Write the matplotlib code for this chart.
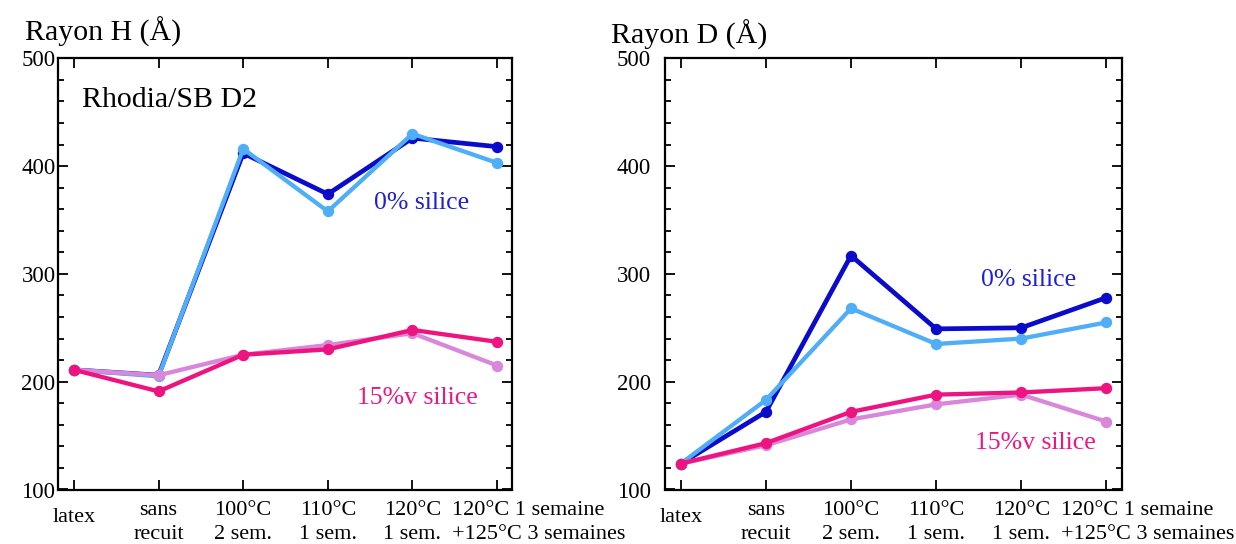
import matplotlib
matplotlib.use("Agg")
import matplotlib.pyplot as plt
from matplotlib.ticker import MultipleLocator, FixedLocator
from matplotlib.transforms import ScaledTranslation

plt.rcParams['font.family'] = ['Liberation Serif', 'DejaVu Serif']

categories = ["latex", "sans\nrecuit", "100°C\n2 sem.", "110°C\n1 sem.",
              "120°C\n1 sem.", "120°C 1 semaine\n+125°C 3 semaines"]

# Rayon H
h_0_a = [211, 206, 412, 374, 426, 418]   # 0% silice (dark blue)
h_0_b = [211, 205, 416, 358, 430, 403]   # 0% silice (light blue)
h_15_a = [211, 191, 225, 230, 248, 237]  # 15%v silice (magenta)
h_15_b = [211, 206, 225, 234, 245, 215]  # 15%v silice (violet)

# Rayon D
d_0_a = [124, 172, 317, 249, 250, 278]
d_0_b = [124, 183, 268, 235, 240, 255]
d_15_a = [124, 143, 172, 188, 190, 194]
d_15_b = [124, 141, 165, 179, 188, 163]

c_dark = "#0B0BCC"
c_light = "#50AEF7"
c_mag = "#EE1480"
c_vio = "#D987DA"
c_txt_blue = "#1F1FD6"
c_txt_pink = "#F0167F"

fig = plt.figure(figsize=(12.36, 5.44), dpi=100)
W, H = 1236, 544

def make_axes(x0, x1, y0, y1):
    return fig.add_axes([x0 / W, 1 - y1 / H, (x1 - x0) / W, (y1 - y0) / H])

axL = make_axes(58.3, 512.3, 58.3, 489.5)
axR = make_axes(665, 1121.7, 58.3, 489.5)

x = list(range(len(categories)))

def draw(ax, s0a, s0b, s15a, s15b):
    ax.plot(x, s0a, '-o', color=c_dark, lw=3.4, ms=7.2, zorder=3)
    ax.plot(x, s0b, '-o', color=c_light, lw=3.1, ms=7.2, zorder=4)
    ax.plot(x, s15b, '-o', color=c_vio, lw=3.1, ms=7.2, zorder=5)
    ax.plot(x, s15a, '-o', color=c_mag, lw=3.1, ms=7.2, zorder=6)
    ax.set_xlim(-0.185, 5.18)
    ax.set_ylim(100, 500)
    ax.yaxis.set_major_locator(MultipleLocator(100))
    ax.yaxis.set_minor_locator(MultipleLocator(20))
    ax.xaxis.set_major_locator(FixedLocator(x))
    ax.set_xticklabels(categories, fontsize=16, linespacing=1.38)
    ax.tick_params(axis='y', which='major', direction='in', length=7, width=1.3,
                   left=True, right=True, labelsize=16.5, pad=2)
    ax.tick_params(axis='y', which='minor', direction='in', length=4.5, width=1.3,
                   left=True, right=True)
    ax.tick_params(axis='x', which='major', direction='in', length=7, width=1.3,
                   top=True, bottom=True, pad=8)
    for sp in ax.spines.values():
        sp.set_linewidth(1.6)
    labels = ax.get_xticklabels()
    # "latex" slightly lower
    labels[0].set_transform(labels[0].get_transform() +
                            ScaledTranslation(0, -7 / 100, fig.dpi_scale_trans))
    # last label left-aligned starting left of the tick
    labels[-1].set_horizontalalignment('left')
    labels[-1].set_multialignment('left')
    labels[-1].set_transform(labels[-1].get_transform() +
                             ScaledTranslation(-45 / 100, 0, fig.dpi_scale_trans))

draw(axL, h_0_a, h_0_b, h_15_a, h_15_b)
draw(axR, d_0_a, d_0_b, d_15_a, d_15_b)
axR.tick_params(axis='y', which='major', pad=10)

axL.text(0.10, 461, "Rhodia/SB D2", fontsize=21.5, ha='left', va='center')
axL.text(3.54, 365.5, "0% silice", fontsize=18.5, color=c_txt_blue, ha='left', va='center')
axL.text(3.35, 185, "15%v silice", fontsize=18.5, color=c_txt_pink, ha='left', va='center')
axR.text(3.53, 294, "0% silice", fontsize=18.5, color=c_txt_blue, ha='left', va='center')
axR.text(3.46, 143, "15%v silice", fontsize=18.5, color=c_txt_pink, ha='left', va='center')

fig.text(25 / W, 1 - 32 / H, "Rayon H (Å)", fontsize=21.5, ha='left', va='center')
fig.text(611 / W, 1 - 35 / H, "Rayon D (Å)", fontsize=21.5, ha='left', va='center')

fig.savefig("out.png", dpi=100)
